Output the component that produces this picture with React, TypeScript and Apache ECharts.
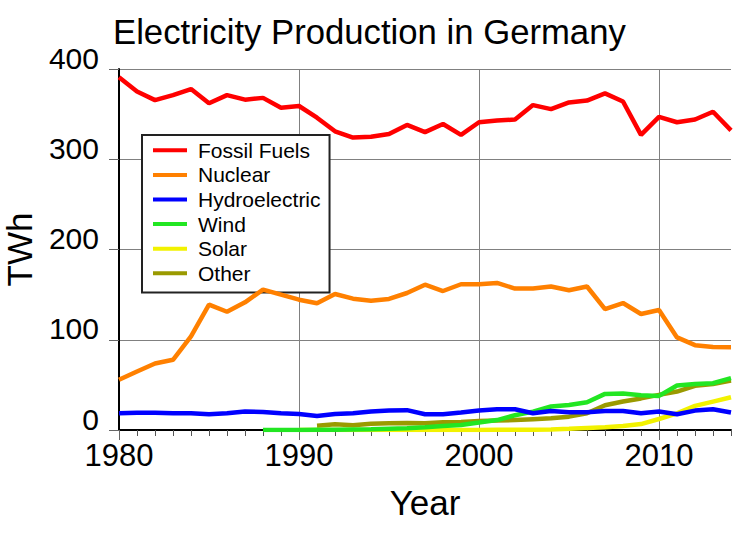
import React, { useEffect, useRef } from "react";
import * as echarts from "echarts";

const years = [
  1980, 1981, 1982, 1983, 1984, 1985, 1986, 1987, 1988, 1989,
  1990, 1991, 1992, 1993, 1994, 1995, 1996, 1997, 1998, 1999,
  2000, 2001, 2002, 2003, 2004, 2005, 2006, 2007, 2008, 2009,
  2010, 2011, 2012, 2013, 2014,
];

const fossil = [
  390.8, 375, 365.5, 371, 377.8, 362, 371, 366, 368, 357,
  359, 346, 331, 324, 325, 328, 338, 330, 339, 327,
  341, 343, 344, 360, 355.5, 363, 365, 373, 364, 327,
  347, 341, 344, 352.6, 332,
];

const nuclear = [
  55.6, 64.8, 73.7, 77.8, 103.7, 138.9, 131, 141.5, 155.6, 150,
  144.4, 140.4, 150.7, 145.5, 143.3, 145.2, 151.8, 161, 154, 161.5,
  161.5, 163, 156.7, 156.7, 159, 154.8, 159, 134, 140.7, 128.5,
  133, 102.6, 94, 92, 91.8,
];

const hydro = [
  18.5, 19, 19, 18.5, 18.5, 17.4, 18.5, 20.4, 20, 18.5,
  17.8, 15.5, 17.8, 18.5, 20.4, 21.5, 22, 17.4, 17.4, 19.3,
  21.5, 23, 23, 18.5, 21, 19.6, 19.6, 21, 21, 18.5,
  20.4, 17.4, 21.5, 23, 19.3,
];

// Wind from 1988
const windStart = 1988;
const wind = [
  0, 0, 0.1, 0.2, 0.3, 0.6, 0.9, 1.5, 2.0, 3.0,
  4.4, 5.6, 8.2, 11, 16.3, 20.4, 26, 27.8, 30.7, 40,
  40.4, 38.5, 37.8, 49.3, 51, 51.8, 57.4,
];

// Solar from 1990
const solarStart = 1990;
const solar = [
  0, 0, 0, 0, 0, 0, 0, 0, 0, 0,
  0.1, 0.2, 0.2, 0.3, 0.6, 1.3, 2.2, 3.1, 4.4, 6.6,
  12.2, 18.5, 26.7, 31.5, 36.3,
];

// Other from 1991
const otherStart = 1991;
const other = [
  4.8, 6.3, 5.2, 7, 7.4, 7.8, 7.4, 8.5, 9, 10,
  10.5, 11, 12, 13, 14.8, 18.5, 27.4, 31.5, 35, 38.9,
  42.6, 48.9, 51, 54.8,
];

const yTicks = [0, 100, 200, 300, 400];
const decadeTicks = [1980, 1990, 2000, 2010];

const seriesNames = ["Fossil Fuels", "Nuclear", "Hydroelectric", "Wind", "Solar", "Other"];
const seriesColors = ["#ff0000", "#ff8000", "#0000ff", "#22e622", "#f2f200", "#9a9a00"];

const FONT = "'Liberation Sans', Arial, Helvetica, sans-serif";

function pairs(start: number, vals: number[]) {
  return vals.map((v, i) => [start + i, v]);
}

export default function App() {
  const ref = useRef<HTMLDivElement>(null);

  useEffect(() => {
    if (!ref.current) return;
    const chart = echarts.init(ref.current, undefined, { renderer: "svg" });
    const seriesData = [
      pairs(years[0], fossil),
      pairs(years[0], nuclear),
      pairs(years[0], hydro),
      pairs(windStart, wind),
      pairs(solarStart, solar),
      pairs(otherStart, other),
    ];
    chart.setOption({
      animation: false,
      backgroundColor: "#ffffff",
      title: {
        text: "Electricity Production in Germany",
        left: 108,
        top: 9,
        textStyle: { fontFamily: FONT, fontSize: 34.7, fontWeight: "normal", color: "#000" },
      },
      legend: {
        orient: "vertical",
        left: 142,
        top: 135,
        padding: [3, 9, 7, 11],
        backgroundColor: "#ffffff",
        borderColor: "#222",
        borderWidth: 2,
        itemWidth: 34,
        itemHeight: 4,
        itemGap: 0,
        icon: "rect",
        data: seriesNames,
        textStyle: {
          fontFamily: FONT,
          fontSize: 21,
          lineHeight: 24.6,
          color: "#000",
          padding: [0, 0, 0, 6],
        },
      },
      grid: { left: 119, top: 69, width: 612, height: 361, containLabel: false, outerBoundsMode: "none" },
      xAxis: [
        {
          type: "value",
          min: 1980,
          max: 2014,
          interval: 1,
          position: "bottom",
          axisLine: { show: true, onZero: false, lineStyle: { color: "#000", width: 2 } },
          axisTick: { show: true, length: 6, lineStyle: { color: "#555", width: 1 } },
          axisLabel: { show: false },
          splitLine: { show: false },
        },
        {
          type: "value",
          min: 1980,
          max: 2014,
          interval: 10,
          position: "bottom",
          name: "Year",
          nameLocation: "middle",
          nameGap: 55,
          nameTextStyle: { fontFamily: FONT, fontSize: 35, color: "#000" },
          axisLine: { show: false, onZero: false },
          axisTick: { show: true, length: 10, customValues: decadeTicks, lineStyle: { color: "#666", width: 1 } },
          axisLabel: {
            show: true,
            customValues: decadeTicks,
            formatter: (v: number) => String(v),
            fontFamily: FONT,
            fontSize: 31,
            color: "#000",
            margin: 10,
          },
          splitLine: { show: true, lineStyle: { color: "#808080", width: 1 } },
        },
      ],
      yAxis: {
        type: "value",
        min: 0,
        max: 400,
        interval: 100,
        name: "TWh",
        nameLocation: "middle",
        nameGap: 82,
        nameTextStyle: { fontFamily: FONT, fontSize: 35, color: "#000", padding: [0, 0, 0, 0] },
        axisLine: { show: true, lineStyle: { color: "#000", width: 2 } },
        axisTick: { show: true, length: 10, customValues: yTicks, lineStyle: { color: "#666", width: 1 } },
        axisLabel: {
          customValues: yTicks,
          formatter: (v: number) => String(v),
          fontFamily: FONT,
          fontSize: 30,
          lineHeight: 22,
          color: "#000",
          margin: 20,
          verticalAlign: "bottom",
        },
        splitLine: { show: true, lineStyle: { color: "#808080", width: 1 } },
      },
      series: seriesNames.map((name, i) => ({
        name,
        type: "line",
        xAxisIndex: 0,
        data: seriesData[i],
        showSymbol: false,
        symbol: "none",
        color: seriesColors[i],
        z: 10 - i,
        lineStyle: { width: 4.5, color: seriesColors[i] },
      })),
    });
    return () => chart.dispose();
  }, []);

  return (
    <div
      ref={ref}
      style={{ position: "absolute", left: 0, top: 0, width: 750, height: 540 }}
    />
  );
}
